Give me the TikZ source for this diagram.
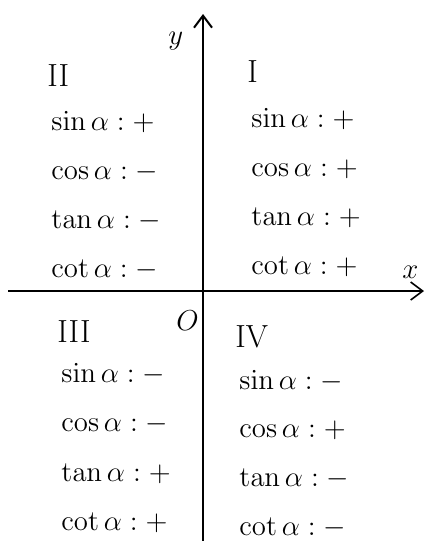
\documentclass[tikz,border=0pt]{standalone}
\usepackage{amsmath,amssymb}
\usetikzlibrary{arrows.meta,positioning}

\begin{document}
\begin{tikzpicture}[>={Straight Barb[length=6pt,width=9pt]},x=0.5pt,y=-0.5pt,
    sign/.style={anchor=base west,inner sep=0pt,font=\fontsize{15.5}{18}\selectfont},
    quad/.style={anchor=base west,inner sep=0pt,font=\fontsize{16}{19}\selectfont}]
  \useasboundingbox (0,0) rectangle (426,541);

  % Axes
  \coordinate (xs) at (8,291);
  \coordinate (xe) at (424,291);
  \coordinate (ys) at (203,541);
  \coordinate (ye) at (203,14);
  \draw[->,line width=0.8pt] (xs) -- (xe);
  \draw[->,line width=1pt] (ys) -- (ye);
  \node[sign] (xlab) at (402,278) {$x$};
  \node[sign] (ylab) at (168,44) {$y$};
  \node[sign] (orig) at (176,330) {$O$};

  % Quadrant names
  \node[quad] (qI) at (247,82) {I};
  \node[quad] (qII) at (47,86) {II};
  \node[quad] (qIII) at (57,342) {III};
  \node[quad] (qIV) at (235,347) {IV};

  % Signs
  \foreach \f/\s [count=\i] in {\sin/+,\cos/+,\tan/+,\cot/+}
    \node[sign] (I-\i) at (251,{127+(\i-1)*49.3}) {$\f\alpha : \s$};
  \foreach \f/\s [count=\i] in {\sin/+,\cos/-,\tan/-,\cot/-}
    \node[sign] (II-\i) at (51,{130+(\i-1)*49.3}) {$\f\alpha : \s$};
  \foreach \f/\s [count=\i] in {\sin/-,\cos/-,\tan/+,\cot/+}
    \node[sign] (III-\i) at (61,{382+(\i-1)*49.5}) {$\f\alpha : \s$};
  \foreach \f/\s [count=\i] in {\sin/-,\cos/+,\tan/-,\cot/-}
    \node[sign] (IV-\i) at (239,{389+(\i-1)*48.7}) {$\f\alpha : \s$};
\end{tikzpicture}
\end{document}
